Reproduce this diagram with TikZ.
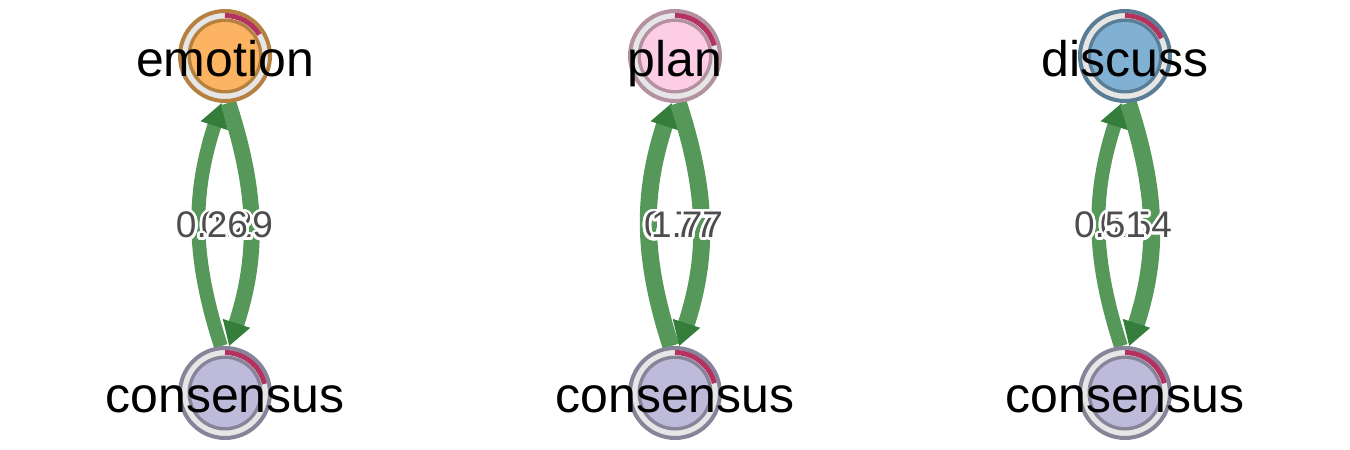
\documentclass[tikz,border=0pt]{standalone}
\usepackage{fontspec}
\setmainfont{Liberation Sans}
\usepackage{contour}
\contourlength{1.3pt}
\contournumber{24}
\usetikzlibrary{arrows.meta,backgrounds}
\definecolor{emofill}{RGB}{253,180,98}
\definecolor{emoborder}{RGB}{181,128,64}
\definecolor{planfill}{RGB}{252,205,229}
\definecolor{planborder}{RGB}{180,145,160}
\definecolor{discfill}{RGB}{128,177,211}
\definecolor{discborder}{RGB}{90,125,150}
\definecolor{consfill}{RGB}{190,186,218}
\definecolor{consborder}{RGB}{135,132,153}
\definecolor{ringgray}{RGB}{230,230,230}
\definecolor{piecol}{RGB}{180,50,95}
\definecolor{edgegreen}{RGB}{85,152,90}
\definecolor{arrowgreen}{RGB}{52,125,58}
\definecolor{labgray}{RGB}{77,77,77}
\newcommand{\tnavertex}[6]{%
  \node[vtx, draw=#5] (#1) at (#2,#3) {};
  \draw[pie] ([shift={(90:40.5)}]#1.center) arc[start angle=90, end angle=#6, radius=40.5];
  \fill[#5] (#1.center) circle[radius=37.5];
  \fill[#4] (#1.center) circle[radius=34];
}
\begin{document}
\begin{tikzpicture}[x=0.5pt,y=0.5pt,
  vtx/.style={circle, minimum size=45pt, inner sep=0pt, line width=2pt, fill=ringgray},
  pie/.style={line width=2.5pt, color=piecol},
  vlab/.style={font=\fontsize{25pt}{30pt}\selectfont, anchor=base, inner sep=0pt, text=black},
  elab/.style={font=\fontsize{18.5pt}{22pt}\selectfont, anchor=base, inner sep=0pt, text=labgray},
  tnaedge/.style={line width=#1, color=edgegreen, -{Triangle[length=12pt,width=13.5pt,color=arrowgreen]}}]
\useasboundingbox (0,0) rectangle (1350,450);
% left column
\tnavertex{emo}{225}{394}{emofill}{emoborder}{32}
\tnavertex{consA}{225}{57}{consfill}{consborder}{13}
\node[vlab] (emolab) at (225,373) {emotion};
\node[vlab] (consAlab) at (225,38) {consensus};
% middle column
\tnavertex{plan}{675}{394}{planfill}{planborder}{15}
\tnavertex{consB}{675}{57}{consfill}{consborder}{14}
\node[vlab] (planlab) at (675,373) {plan};
\node[vlab] (consBlab) at (675,38) {consensus};
% right column
\tnavertex{disc}{1125}{394}{discfill}{discborder}{26}
\tnavertex{consC}{1125}{57}{consfill}{consborder}{14}
\node[vlab] (disclab) at (1125,373) {discuss};
\node[vlab] (consClab) at (1125,38) {consensus};
\begin{pgfonlayer}{background}
\draw[tnaedge=7pt] (consA.95) to[out=108,in=252] (emo.266);
\draw[tnaedge=8pt] (emo.274) to[out=288,in=72] (consA.85);
\draw[tnaedge=8.5pt] (consB.95) to[out=108,in=252] (plan.266);
\draw[tnaedge=8.5pt] (plan.274) to[out=288,in=72] (consB.85);
\draw[tnaedge=7pt] (consC.95) to[out=108,in=252] (disc.266);
\draw[tnaedge=8.5pt] (disc.274) to[out=288,in=72] (consC.85);
\end{pgfonlayer}
% edge labels
\node[elab] (w1b) at (237,212) {\contour{white}{0.29}};
\node[elab] (w1a) at (212,212) {\contour{white}{0.26}};
\node[elab] (w2b) at (680,212) {\contour{white}{0.77}};
\node[elab] (w2a) at (687,212) {\contour{white}{1.77}};
\node[elab] (w3b) at (1136,212) {\contour{white}{0.54}};
\node[elab] (w3a) at (1110,212) {\contour{white}{0.51}};
\end{tikzpicture}
\end{document}
